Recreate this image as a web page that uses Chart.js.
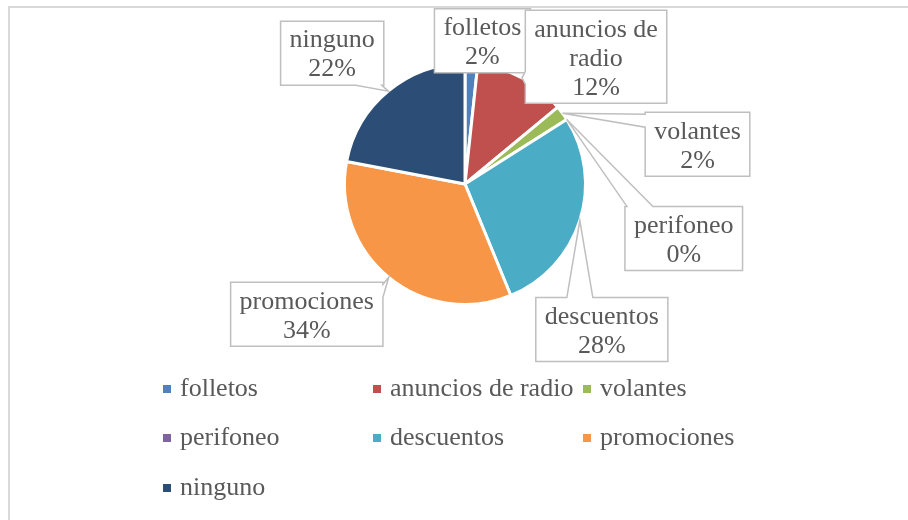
<!DOCTYPE html>
<html>
<head>
<meta charset="utf-8">
<script src="https://cdn.jsdelivr.net/npm/chart.js@4"></script>
<style>
  html, body { margin: 0; padding: 0; background: #fff; overflow: hidden; }
  #wrap { position: relative; width: 908px; height: 520px; }
</style>
</head>
<body>
<div id="wrap"><canvas id="pieChart" width="908" height="520"></canvas></div>
<script>
const categories = ['folletos', 'anuncios de radio', 'volantes', 'perifoneo', 'descuentos', 'promociones', 'ninguno'];
const shares = [1.7, 12.3, 2.0, 0, 27.8, 34.2, 22.0];
const sliceColors = ['#4F81BD', '#C0504D', '#9BBB59', '#8064A2', '#4BACC6', '#F79646', '#2C4D75'];

// callout box centre, relative to the slice's outer mid point
const calloutOffsets = [[11, -23], [74, -21], [135, 31], [117, 119], [22, 109], [-82, 37], [-56, -38]];

const FONT = '26px "Liberation Serif", serif';
const TEXT_COLOR = '#595959';

function wrapText(ctx, text, maxW) {
    const words = text.split(' ');
    const lines = [];
    let cur = '';
    words.forEach(w => {
        const test = cur ? cur + ' ' + w : w;
        if (cur && ctx.measureText(test).width > maxW) {
            lines.push(cur);
            cur = w;
        } else {
            cur = test;
        }
    });
    if (cur) lines.push(cur);
    return lines;
}

const framePlugin = {
    id: 'frame',
    beforeDraw(chart) {
        const ctx = chart.ctx;
        ctx.save();
        ctx.fillStyle = '#fff';
        ctx.fillRect(0, 0, chart.width, chart.height);
        ctx.strokeStyle = '#d9d9d9';
        ctx.lineWidth = 2;
        ctx.strokeRect(9, 7, chart.width + 20, chart.height + 20);
        ctx.restore();
    }
};

const calloutPlugin = {
    id: 'callouts',
    afterDatasetsDraw(chart) {
        const ctx = chart.ctx;
        const meta = chart.getDatasetMeta(0);
        const values = chart.data.datasets[0].data;
        const total = values.reduce((a, b) => a + b, 0);
        ctx.save();
        ctx.font = FONT;
        meta.data.forEach((arc, i) => {
            const p = arc.getProps(['x', 'y', 'startAngle', 'endAngle', 'outerRadius'], true);
            const mid = (p.startAngle + p.endAngle) / 2;
            const ax = p.x + Math.cos(mid) * p.outerRadius;
            const ay = p.y + Math.sin(mid) * p.outerRadius;

            const lines = wrapText(ctx, chart.data.labels[i], 140);
            lines.push(Math.round(values[i] / total * 100) + '%');
            const tw = Math.max(...lines.map(l => ctx.measureText(l).width));
            const w = tw + 18, lineH = 29, h = lines.length * lineH + 6;
            const cx = ax + calloutOffsets[i][0], cy = ay + calloutOffsets[i][1];
            const x0 = cx - w / 2, x1 = cx + w / 2, y0 = cy - h / 2, y1 = cy + h / 2;

            // which side the pointer leaves from
            let side = null;
            const outX = ax < x0 ? x0 - ax : (ax > x1 ? ax - x1 : 0);
            const outY = ay < y0 ? y0 - ay : (ay > y1 ? ay - y1 : 0);
            if (outX > 0 || outY > 0) {
                if (outY >= outX) side = ay < y0 ? 'top' : 'bottom';
                else side = ax < x0 ? 'left' : 'right';
            }
            const hw = 13;
            const clamp = (v, a, b) => Math.max(a, Math.min(b, v));

            ctx.beginPath();
            ctx.moveTo(x0, y0);
            if (side === 'top') {
                const bc = clamp(ax, x0 + hw + 2, x1 - hw - 2);
                ctx.lineTo(bc - hw, y0); ctx.lineTo(ax, ay); ctx.lineTo(bc + hw, y0);
            }
            ctx.lineTo(x1, y0);
            if (side === 'right') {
                const bc = clamp(ay, y0 + hw / 2 + 2, y1 - hw - 2);
                ctx.lineTo(x1, bc - hw / 2); ctx.lineTo(ax, ay); ctx.lineTo(x1, bc + hw / 2);
            }
            ctx.lineTo(x1, y1);
            if (side === 'bottom') {
                const bc = clamp(ax, x0 + hw + 2, x1 - hw - 2);
                ctx.lineTo(bc + hw, y1); ctx.lineTo(ax, ay); ctx.lineTo(bc - hw, y1);
            }
            ctx.lineTo(x0, y1);
            if (side === 'left') {
                const bc = clamp(ay, y0 + hw / 2 + 2, y1 - hw - 2);
                ctx.lineTo(x0, bc + hw / 2); ctx.lineTo(ax, ay); ctx.lineTo(x0, bc - hw / 2);
            }
            ctx.closePath();
            ctx.fillStyle = '#fff';
            ctx.fill();
            ctx.strokeStyle = '#bfbfbf';
            ctx.lineWidth = 1.5;
            ctx.stroke();

            ctx.fillStyle = TEXT_COLOR;
            ctx.textAlign = 'center';
            ctx.textBaseline = 'middle';
            lines.forEach((l, k) => ctx.fillText(l, cx, y0 + 3 + lineH * k + lineH / 2 + 2));
        });
        ctx.restore();
    }
};

// legend in a 3 column grid under the pie
const legendCols = [163, 373, 583];
const legendRows = [389, 438, 488];
const gridLegendPlugin = {
    id: 'gridLegend',
    afterDraw(chart) {
        const ctx = chart.ctx;
        const colors = chart.data.datasets[0].backgroundColor;
        ctx.save();
        ctx.font = FONT;
        ctx.textAlign = 'left';
        ctx.textBaseline = 'alphabetic';
        chart.data.labels.forEach((lab, i) => {
            const x = legendCols[i % 3], y = legendRows[Math.floor(i / 3)];
            ctx.fillStyle = colors[i];
            ctx.fillRect(x, y - 4, 8, 8);
            ctx.fillStyle = TEXT_COLOR;
            ctx.fillText(lab, x + 17, y + 7);
        });
        ctx.restore();
    }
};

const ctx = document.getElementById('pieChart').getContext('2d');
new Chart(ctx, {
    type: 'pie',
    data: {
        labels: categories,
        datasets: [{
            data: shares,
            backgroundColor: sliceColors,
            borderColor: '#ffffff',
            borderWidth: 3
        }]
    },
    options: {
        responsive: false,
        animation: false,
        layout: {
            padding: { left: 343, right: 321, top: 62, bottom: 214 }
        },
        plugins: {
            legend: { display: false },
            tooltip: { enabled: false }
        }
    },
    plugins: [framePlugin, calloutPlugin, gridLegendPlugin]
});
</script>
</body>
</html>
